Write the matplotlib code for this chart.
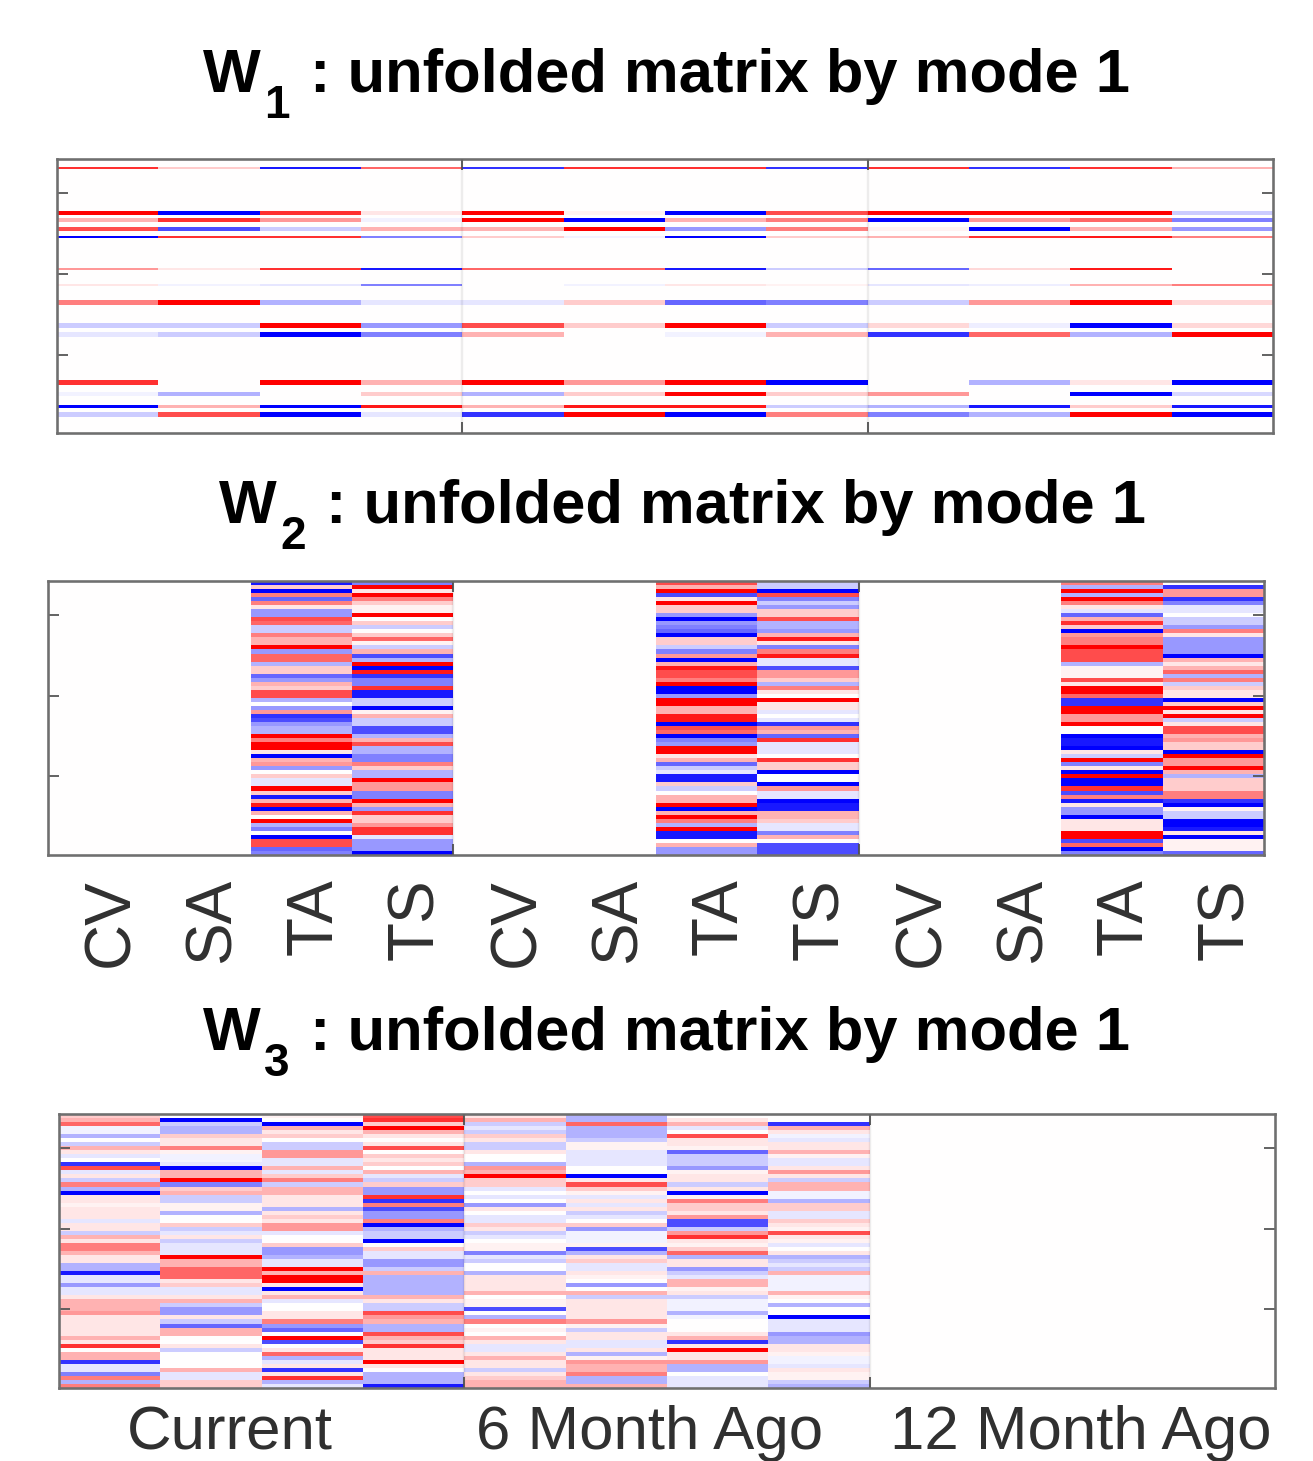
import numpy as np
import matplotlib
matplotlib.use("Agg")
import matplotlib.pyplot as plt
from matplotlib.colors import LinearSegmentedColormap
from matplotlib.transforms import ScaledTranslation

plt.rcParams['font.family'] = ['Liberation Sans', 'DejaVu Sans']

measures = ['CV', 'SA', 'TA', 'TS'] * 3
periods = ['Current', '6 Month Ago', '12 Month Ago']
period_pos = [1.19, 5.33, 9.58]

# W1: sparse stripes on a 120-row grid
w1_rows = [[4], [23, 24], [26, 27], [30, 31], [34], [48], [55], [62, 63], [72, 73], [76, 77], [97, 98], [102, 103], [108], [111, 112]]
w1_c1 = [8, 10, 3, 7, -10, 4, 1, 5, -2, -1, 8, -0.5, -10, -2]
w1_c2 = [2, -10, 8, -7, 8, 1, -0.5, 10, -2, -2, 0, -3, 3, 7]
w1_c3 = [-9, 8, 4, -2, 8, 8, -1, -3, 10, -10, 10, 0, -10, -10]
w1_c4 = [6, 1, -0.5, 3, -5, -9, -5, -1, -4, -5, 3, 2, 9, -1]
w1_c5 = [-8, 10, 10, 3, 2, 6, 0, -1, 7, 3, 10, -3, 3, -8]
w1_c6 = [8, 0.5, -10, 10, -0.5, 6, -0.5, 2, 2, 0, 4, 2, 9, 10]
w1_c7 = [8, -10, 3, -4, -10, -9, 1, -6, 10, -0.5, 10, 10, 9, -10]
w1_c8 = [-8, 7, 5, 5, 2, -2, 0.5, -5, -2, 3, -10, 2, -2, 5]
w1_c9 = [8, 10, -10, 0.5, 3, -6, -1, -2, 1.5, -8, 0, 4, -3, -5]
w1_c10 = [-8, 10, 4, -10, 8, 1.5, -0.7, 4, -0.7, 6, -3, 0, -9, -3]
w1_c11 = [8, 10, 6, 3, 9, 9, 3, 10, -10, -3, 1, -10, 2, 10]
w1_c12 = [3, -2, -5, -4, 5, 0, 5, 1.5, 1.5, 10, -10, -1.5, -9, -10]

# W2: 68 rows, only TA and TS columns are non-zero
w2_ta1 = [-9, 2, -10, 5, -6, 5, 1, -4, -4, 7,
          6, -2, -2, 5, 3, 3, 10, -4, 6, 6,
          -3, 2, 2, -6, -4, 3, 2, 7, 7, -3,
          0, -4, 4, -8, -7, -4, -3, -3, 10, 5,
          10, 10, 1, -10, 3, 4, -4, 0, 2, -1,
          -1, 10, 2, -9, 3, 9, -10, 3, 0, 10,
          -3, -5, 0, -10, 7, 7, -6, -5]
w2_ts1 = [-5, 10, 1, 10, 5, 2, 0.5, 0.5, 10, 0,
          2, -2, 0, 2, 6, 0.5, -2, 3, -7, -3,
          10, -10, 9, -8, -5, -5, 8, -9, -9, -2,
          -2, -10, 0.5, 3, -2, -2, -7, -7, -3, 3,
          7, -3, -3, -5, -5, 5, 2, -3, -3, 10,
          4, 4, -5, -5, 10, 3, -4, 8, 2, 2,
          4, 8, 8, -1, -4, -4, -4, -10]
w2_ta2 = [7, 3, 10, -7, 1, 10, 2, 2, -4, -10,
          -4, -5, -6, -10, 2, 2, -2, -5, 4, -10,
          3, 9, 7, 7, 5, 10, -10, -10, -4, 10,
          10, 3, 3, 9, 9, -10, 7, 6, -10, -5,
          -4, 10, 10, 1, 3, -6, -2, -1, -9, -9,
          2, -2, 0, 3, 3, 10, -10, 3, 10, 5,
          -3, 10, -9, -9, 0, 3, -4, -4]
w2_ts2 = [-2, -2, -10, 7, -5, -2, -4, 2, 2, 7,
          -3, -3, -4, 3, 9, 1, -5, 5, 9, -1,
          -1, -7, 4, 4, 2, -3, 5, 1, 0, 10,
          1, 1, -1, 0, -1, -8, 4, 3, -6, 8,
          -1, -1, -1, 0, 8, 2, 2, -10, 0, 0,
          -10, 4, -1, -1, -10, -9, -9, 3, 3, 2,
          -1, -1, -5, 3, 0, -7, -7, -7]
w2_ta3 = [5, -3, 10, -3, 10, 5, 1, -1, -6, 3,
          8, 2, -10, 4, 5, 5, 10, 7, 7, 7,
          -3, 0.5, 0.5, 0.5, 7, 1, 10, 10, 6, -8,
          -8, 10, 10, 4, 4, 10, 0, 0, -10, -9,
          -9, -10, 1, -2, 10, -5, 1, -10, 10, -10,
          -10, 8, -7, 5, -9, 1, -4, -4, -10, 1,
          1, 1, 10, 10, -7, 6, -10, -5]
w2_ts3 = [0, -8, 4, 4, -8, -5, -1, -1, 0, -2,
          -2, -4, 5, 1, -4, -4, -4, -4, -10, 3,
          1, 3, 6, -3, 5, -2, 2, 1, 1, -10,
          2, 10, 1, 10, -2, 1, 7, 7, 3, 4,
          2, 2, -10, 10, 4, 4, 10, 3, -3, 2,
          2, 2, 5, 5, -8, -10, 0.5, -2, -2, -10,
          -10, -9, 1, -10, 0.5, 0.5, 0.5, -6]

# W3: 68 rows, columns for the first two periods are non-zero
w3_c1 = [2, 3, 6, -0.5, -0.5, -3, 0, -2, 3, 1,
         -1, 0, -8, 7, -1, 1, -2, 5, -3, -10,
         1, 1, 0.5, 1, 1, 1, -1, 1, 1, -2,
         3, 1, 5, 5, 3, 1, 1, -3, -3, -9,
         -1, -1, -4, -1, -1, 1, 3, 3, 3, 4,
         1, 1, 1, 1, 1, 3, 1, 8, 0, 3,
         3, -8, -1, -1, -5, 5, -3, 5]
w3_c2 = [0, -10, -2, -3, -3, 2, 1, 1, 5, 0.5,
         -0.5, -0.5, -1, -10, 3, 3, 10, -5, 2, 3,
         -2, -2, 0.5, 0.5, -3, 0, 0, 2, -2, -1,
         1, -2, -1, -1, -1, 10, 3, 3, 6, 6,
         6, 1, 2, -1, -1, 1, 3, -2, -4, -4,
         1, -2, -6, 3, 3, 0, 0, 1, -2, 0,
         0, 0, 0, 3, -1, -1, 2, 2]
w3_c3 = [0.5, 0, -10, 3, 1, 2, 0, -2, -2, 4,
         4, -1, -1, 3, -1, 2, 5, -2, 3, 3,
         1, 1, 1, -3, 1, 2, 1, 4, 4, -1,
         0, 0, 2, -4, -4, -3, -1, -1, 10, 3,
         10, 10, 1, -10, 1, 3, -1, 0, 0, 1,
         1, 5, -4, -6, 0, 10, -7, 0, 1, 6,
         -3, -1, 1, -8, 1, 8, -3, -1]
w3_c4 = [7, 8, 2, 10, 3, 1, 0, 1, 7, 0,
         2, 1, 2, 0, 3, -1, -2, 2, -4, -4,
         8, -8, 5, -7, -4, -4, 5, -10, -3, -2,
         -2, -10, 0, 2, -1, -1, -4, -4, -2, 3,
         -3, -3, -3, -3, -3, 3, 1, -2, -2, 7,
         4, 3, -3, -3, 7, 3, 2, 8, 1, 1,
         1, 10, 1, 0, -3, -3, -3, -9]
w3_c5 = [1, 3, -2, -1, -2, 2, 1, -2, -2, 1,
         0, 0, -3, 4, 3, 10, 2, 2, -1, 0,
         -1, 0, -4, 1, 0, -1, -1, 2, 1, -2,
         -1, 0, 0.5, 0.5, -5, -1, -2, 0, 0, -3,
         1, 1, 1, 1, 3, 0, 0.5, 0.5, -7, 0,
         -3, 5, 0, 0.5, 0, 3, 1, -1, -1, 1,
         3, 1, 1, -2, 1, 2, 3, 3]
w3_c6 = [-3, -3, 6, -3, -3, -3, -2, 0.5, 0.5, -1,
         -1, -1, -1, 0, 0, -10, 1, 7, 2, 0.5,
         -1, 1, -1, 1, -2, -1, 0, 2, -4, -0.5,
         -0.5, -0.5, 0.5, -7, -3, 1, 2, -1, -1, 1,
         0.5, 0, -4, 0, 3, -2, 1, 1, 1, 1,
         1, 4, 0.5, -2, 1, 1, -1, -1, 1, -3,
         0.5, 4, 3, 3, 5, -3, -3, 3]
w3_c7 = [0, 1, 3, -1, 0, 7, 1, 1, 0.5, -6,
         -2, -2, -2, -4, 0.5, 1, 1, -2, 1, -10,
         0.5, 5, 2, 2, 1, 4, -7, -7, -2, 4,
         8, 1, 0.5, 2, 6, -3, 1, 1, -4, -2,
         -1, 3, 3, 0.5, 1, -2, -0.5, -0.5, -0.5, -3,
         -0.5, 0, 0, 0, 1, 3, -8, 1, 10, 1,
         1, 4, -3, -3, 0, -1, -1, -1]
w3_c8 = [0, 0, -8, 3, 1, -0.5, -1, 1, 1, 3,
         0.5, -1, -1, 1, 4, 1, -2, 3, 3, -0.5,
         -0.5, -3, 2, 2, -1, -1, 2, 1, 0.5, 7,
         1, 0.5, -1, 0, 1, -3, -2, -1, -2, 3,
         -0.5, -0.5, -0.5, -0.5, 3, 0.5, 0, -3, 0, 0,
         -10, -1, -1, -1, -4, -3, -3, 1, 1, 0.5,
         -0.5, -0.5, -1, 1, 0.5, 0.5, -2, -3]

cmap = LinearSegmentedColormap.from_list('bwr2', ['#0000ff', '#ffffff', '#ff0000'])

W = 1313.0
H = 1461.0
FRAME = '#6f6f6f'
TICK = '#555555'
px = 0.72


def make_axes(fig, x0, y0, x1, y1):
    return fig.add_axes([x0 / W, 1 - y1 / H, (x1 - x0) / W, (y1 - y0) / H])


def style(ax, yt):
    ax.set_xticks([3.5, 7.5])
    ax.set_yticks(yt)
    ax.tick_params(axis='both', which='major', direction='in', length=11 * px, width=1.8 * px,
                   color=TICK, top=True, right=True, labelbottom=False, labelleft=False)
    for s in ax.spines.values():
        s.set_color(FRAME)
        s.set_linewidth(2.6 * px)
    for b in (3.5, 7.5):
        ax.axvline(b, color='black', alpha=0.07, lw=2.4 * px, zorder=3)


def heat(ax, M):
    ax.imshow(M, cmap=cmap, vmin=-10, vmax=10, aspect='auto', interpolation='nearest')


def title(fig, xw, base, sub):
    kw = dict(color='black', fontweight='bold', va='baseline', ha='left')
    fig.text(xw / W, 1 - base / H, 'W', fontsize=44, **kw)
    fig.text((xw + 61) / W, 1 - (base + 26) / H, sub, fontsize=33, **kw)
    fig.text((xw + 107) / W, 1 - base / H, ': unfolded matrix by mode 1', fontsize=44.3, **kw)


fig = plt.figure(figsize=(13.13, 14.61), dpi=100, facecolor='white')

# W1
w1_cols = [w1_c1, w1_c2, w1_c3, w1_c4, w1_c5, w1_c6, w1_c7, w1_c8, w1_c9, w1_c10, w1_c11, w1_c12]
M1 = np.zeros((120, 12))
for j, col in enumerate(w1_cols):
    for rows, v in zip(w1_rows, col):
        M1[rows, j] = v
ax1 = make_axes(fig, 57, 159, 1273, 433)
heat(ax1, M1)
style(ax1, [14.5, 50, 85.5])
title(fig, 203, 92, '1')

# W2
zero = [0] * 68
M2 = np.array([zero, zero, w2_ta1, w2_ts1, zero, zero, w2_ta2, w2_ts2, zero, zero, w2_ta3, w2_ts3], float).T
ax2 = make_axes(fig, 48, 581, 1264, 855)
heat(ax2, M2)
style(ax2, [8, 28, 48])
ax2.set_xticks(range(12), measures, minor=True)
ax2.tick_params(axis='x', which='minor', length=0, pad=23 * px, labelsize=46, labelcolor='#303030',
                labelrotation=90)
shift = ScaledTranslation(13 / 100, 0, fig.dpi_scale_trans)
for lab in ax2.get_xticklabels(minor=True):
    lab.set_transform(lab.get_transform() + shift)
title(fig, 219, 523, '2')

# W3
M3 = np.array([w3_c1, w3_c2, w3_c3, w3_c4, w3_c5, w3_c6, w3_c7, w3_c8, zero, zero, zero, zero], float).T
ax3 = make_axes(fig, 59, 1114, 1275, 1388)
heat(ax3, M3)
style(ax3, [8, 28, 48])
ax3.set_xticks(period_pos, periods, minor=True)
ax3.tick_params(axis='x', which='minor', length=0, pad=17 * px, labelsize=44.5, labelcolor='#303030')
title(fig, 203, 1050, '3')

fig.savefig('out.png', dpi=100, facecolor='white')
